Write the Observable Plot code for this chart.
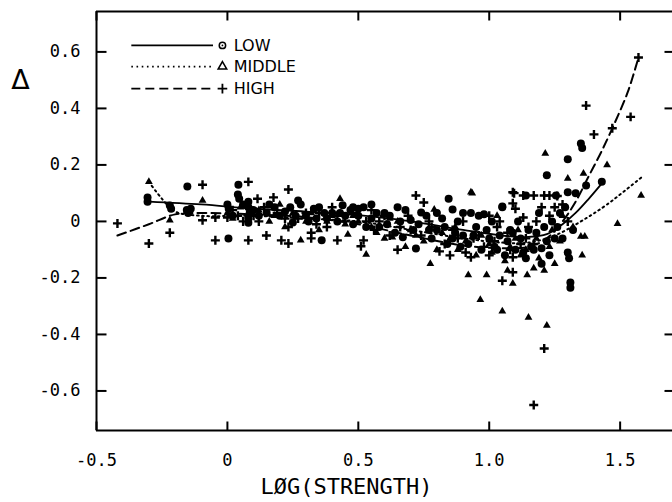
<!DOCTYPE html>
<html><head><meta charset="utf-8">
<script src="https://cdn.jsdelivr.net/npm/d3@7"></script>
<script src="https://cdn.jsdelivr.net/npm/@observablehq/plot@0.6"></script>
<style>
body{margin:0;background:#fff}
g[aria-label="legend-text"] text{letter-spacing:1.2px}
</style>
</head><body><div id="chart"></div>
<script>
// Axis ticks
const xTicks = [-0.5, 0, 0.5, 1.0, 1.5];
const xTickLabels = ["-0.5", "0", "0.5", "1.0", "1.5"];
const yTicks = [-0.6, -0.4, -0.2, 0, 0.2, 0.4, 0.6];
const yTickLabels = ["-0.6", "-0.4", "-0.2", "0", "0.2", "0.4", "0.6"];

// LOW (circles)
const lowX = [-0.305,-0.305,-0.22,-0.215,-0.153,-0.155,-0.15,-0.14,0.042,0.04,0.045,0.004,0.0,0.005,0.08,0.08,0.085,0.08,0.08,0.15,0.2,0.25,0.27,0.28,0.36,0.37,0.44,0.42,0.47,0.5,0.52,0.55,0.6,0.62,0.67,0.7,0.72,0.74,0.76,0.8,0.845,0.86,0.88,0.9,0.93,0.95,0.98,1.0,1.02,1.05,1.05,1.08,1.1,1.13,1.14,1.15,1.2,1.2,1.22,1.23,1.255,1.26,1.30,1.30,1.30,1.305,1.31,1.31,1.35,1.355,1.37,1.43,1.28,1.24,1.19,
  0.1,0.12,0.18,0.22,0.3,0.33,0.38,0.45,0.48,0.58,0.64,0.68,0.78,0.82,0.84,0.87,0.92,0.97,1.04,1.06,1.12,1.16,1.18,1.22,
  0.02,0.06,0.09,0.16,0.24,0.26,0.31,0.34,0.4,0.43,0.5,0.53,0.57,0.61,0.66,0.71,0.73,0.77,0.8,0.83,0.86,0.89,0.94,0.96,0.99,1.01,1.03,1.07,1.09,1.11,1.14,1.17,1.21,1.25,1.27,1.29,1.33,1.32,0.55,0.48,0.35,0.65,0.9];
const lowY = [0.085,0.07,0.056,0.045,0.124,0.04,0.03,0.045,0.13,0.095,0.08,-0.06,0.06,0.045,0.07,0.05,0.03,0.01,-0.005,0.03,0.02,-0.004,0.074,0.06,-0.067,0.03,0.057,0.0,0.04,0.045,0.05,0.01,0.03,0.02,-0.056,0.005,-0.096,0.032,0.02,-0.03,0.08,0.042,0.0,-0.05,0.03,-0.02,0.025,-0.06,-0.09,0.053,0.05,-0.03,-0.1,-0.11,0.092,-0.03,-0.095,-0.15,0.163,-0.12,0.092,-0.02,0.22,0.103,-0.11,-0.13,-0.216,-0.235,0.276,0.26,0.127,0.14,-0.06,0.0,0.03,
  0.04,0.02,0.05,0.035,0.02,0.045,0.01,0.02,-0.01,-0.02,-0.04,0.04,-0.06,0.01,-0.08,-0.04,-0.08,-0.1,-0.05,-0.12,-0.06,-0.09,-0.04,-0.07,
  0.02,0.06,0.04,0.06,0.05,0.02,0.0,0.01,0.03,0.03,0.02,-0.02,0.03,-0.01,0.0,-0.03,-0.01,-0.03,0.03,-0.02,-0.06,-0.09,-0.05,0.02,-0.03,0.0,-0.1,-0.07,-0.04,0.0,-0.13,-0.1,-0.02,-0.06,0.03,0.05,0.1,-0.03,0.06,0.05,0.05,0.05,0.03];

// MIDDLE (triangles)
const midX = [-0.30,-0.22,-0.095,0.0,0.02,0.12,0.2,0.28,0.3,0.43,0.46,0.53,0.4,0.55,0.63,0.65,0.7,0.775,0.79,0.85,0.92,0.93,0.935,0.966,0.99,1.0,1.05,1.07,1.09,1.1,1.145,1.15,1.17,1.21,1.214,1.22,1.25,1.30,1.35,1.365,1.355,1.36,1.45,1.49,1.58,1.03,0.88,1.12,1.18,
  0.05,0.16,0.25,0.35,0.5,0.6,0.68,0.75,0.82,0.95,1.06,1.14,1.24,1.28,
  0.08,0.18,0.22,0.32,0.38,0.45,0.48,0.57,0.62,0.72,0.8,0.87,0.91,0.97,1.01,1.08,1.11,1.19,1.23,1.27,1.32];
const midY = [0.14,0.004,0.074,0.03,0.01,0.04,0.06,-0.067,0.0,0.08,-0.046,-0.117,0.02,-0.02,-0.056,0.0,-0.03,-0.15,0.042,-0.06,-0.19,0.103,0.1,-0.277,-0.19,-0.08,-0.318,-0.174,-0.22,-0.06,-0.19,-0.34,-0.166,-0.174,0.24,-0.368,-0.15,0.152,-0.053,-0.053,-0.12,0.17,0.2,-0.008,0.092,0.02,-0.1,-0.12,-0.06,
  0.05,0.0,0.03,-0.03,0.0,-0.06,-0.09,-0.07,-0.04,-0.12,-0.14,-0.1,-0.03,0.02,
  0.02,0.02,-0.02,0.03,0.0,-0.01,0.02,-0.04,0.01,-0.05,-0.1,-0.02,-0.07,-0.05,-0.11,-0.09,-0.03,-0.13,-0.09,-0.07,-0.02];

// HIGH (plus)
const highX = [-0.42,-0.30,-0.22,-0.095,-0.095,-0.046,-0.046,0.0,0.08,0.08,0.115,0.149,0.176,0.206,0.233,0.233,0.233,0.32,0.32,0.42,0.51,0.52,0.35,0.4,0.55,0.6,0.65,0.72,0.75,0.81,0.85,0.93,0.9,0.96,1.0,1.03,1.05,1.09,1.09,1.09,1.095,1.09,1.1,1.13,1.13,1.17,1.17,1.17,1.21,1.21,1.23,1.37,1.40,1.47,1.54,1.57,1.25,1.3,0.12,0.7,
  0.02,0.06,0.14,0.27,0.38,0.45,0.58,0.62,0.78,0.83,0.88,0.98,1.02,1.07,1.14,1.2,1.26,
  0.04,0.1,0.19,0.22,0.3,0.34,0.42,0.48,0.53,0.56,0.66,0.69,0.74,0.77,0.86,0.91,0.94,1.0,1.04,1.08,1.12,1.15,1.18,1.23,1.28];
const highY = [-0.007,-0.078,-0.04,0.13,0.004,0.014,-0.067,0.014,0.14,-0.067,0.08,-0.05,0.085,-0.067,0.113,-0.078,-0.02,-0.04,-0.06,-0.067,-0.088,-0.067,0.03,0.05,0.04,0.02,-0.1,0.092,0.067,-0.106,-0.12,-0.127,0.0,-0.05,0.02,-0.02,-0.21,-0.18,-0.127,0.103,0.1,0.064,0.045,0.014,0.092,0.092,-0.08,-0.65,-0.45,0.092,0.092,0.41,0.308,0.33,0.37,0.58,0.05,0.0,0.0,-0.03,
  0.04,0.0,0.05,0.01,-0.02,0.0,0.0,-0.05,-0.02,-0.08,-0.06,-0.09,-0.07,-0.04,-0.06,0.05,0.09,
  0.02,0.02,0.03,0.01,0.03,-0.01,0.02,0.03,0.0,-0.03,-0.02,0.02,-0.05,0.0,-0.03,-0.11,-0.06,-0.12,0.0,-0.1,-0.08,-0.02,0.0,0.02,0.06];

// Smoothed curves
const lowCurveX = [-0.3,-0.1,0.1,0.3,0.5,0.7,0.9,1.05,1.15,1.22,1.28,1.33,1.38,1.435];
const lowCurveY = [0.07,0.06,0.045,0.035,0.022,0.0,-0.03,-0.05,-0.055,-0.045,-0.01,0.03,0.08,0.14];
const midCurveX = [-0.3,-0.25,-0.2,-0.1,0.1,0.3,0.5,0.7,0.9,1.05,1.15,1.25,1.35,1.45,1.58];
const midCurveY = [0.14,0.08,0.035,0.02,0.02,0.01,0.0,-0.03,-0.06,-0.075,-0.075,-0.05,0.0,0.06,0.155];
const highCurveX = [-0.42,-0.3,-0.2,-0.1,0.1,0.3,0.5,0.7,0.9,1.05,1.15,1.22,1.28,1.33,1.38,1.43,1.48,1.53,1.57];
const highCurveY = [-0.05,-0.01,0.025,0.03,0.025,0.015,-0.01,-0.05,-0.085,-0.095,-0.09,-0.06,0.0,0.07,0.16,0.25,0.35,0.46,0.58];

const legendLabels = ["LOW", "MIDDLE", "HIGH"];

const pts = (xs, ys) => xs.map((x, i) => ({x, y: ys[i]}));
const low = pts(lowX, lowY), mid = pts(midX, midY), high = pts(highX, highY);
const lowC = pts(lowCurveX, lowCurveY), midC = pts(midCurveX, midCurveY), highC = pts(highCurveX, highCurveY);

const W = 672, H = 502, mL = 96, mR = 0, mT = 11, mB = 72;
const xDom = [-0.5, 1.7], yDom = [-0.74, 0.743];
const pxX = (W - mL - mR) / (xDom[1] - xDom[0]);   // pixels per x unit
const pxY = (H - mT - mB) / (yDom[1] - yDom[0]);   // pixels per y unit

// inward tick segments, derived from the tick arrays
const tickSegs = [
  ...xTicks.map(x => ({x1: x, x2: x, y1: yDom[0], y2: yDom[0] + 9 / pxY})),
  ...xTicks.map(x => ({x1: x, x2: x, y1: yDom[1], y2: yDom[1] - 9 / pxY})),
  ...yTicks.map(y => ({x1: xDom[0], x2: xDom[0] + 10 / pxX, y1: y, y2: y})),
  ...yTicks.map(y => ({x1: xDom[1], x2: xDom[1] - 8 / pxX, y1: y, y2: y}))
];

// legend placement in data units
const legY = [0.623, 0.548, 0.470];
const leg = legendLabels.map((t, i) => ({t, y: legY[i], x1: -0.367, x2: -0.055, xs: -0.019, xt: 0.024}));

const fmt = (ticks, labels) => d => labels[ticks.findIndex(t => Math.abs(t - d) < 1e-9)];

const chart = Plot.plot({
  width: W, height: H,
  marginLeft: mL, marginRight: mR, marginTop: mT, marginBottom: mB,
  x: {domain: xDom}, y: {domain: yDom},
  style: {fontFamily: "'DejaVu Sans Mono', monospace", fontSize: "17px", color: "black", background: "white", overflow: "visible"},
  marks: [
    // frame (left, top, bottom)
    Plot.ruleX([xDom[0]], {strokeWidth: 2}),
    Plot.ruleY([yDom[0], yDom[1]], {strokeWidth: 2}),
    // inward ticks
    Plot.link(tickSegs, {x1: "x1", x2: "x2", y1: "y1", y2: "y2", stroke: "black", strokeWidth: 2}),
    // tick labels
    Plot.axisX({anchor: "bottom", ticks: xTicks, tickSize: 0, tickPadding: 23, tickFormat: fmt(xTicks, xTickLabels), label: null}),
    Plot.axisY({anchor: "left", ticks: yTicks, tickSize: 0, tickPadding: 16, tickFormat: fmt(yTicks, yTickLabels), label: null}),
    // axis titles
    Plot.text(["Δ"], {frameAnchor: "top-left", dx: -76, dy: 69, fontSize: 27, fontFamily: "'DejaVu Sans'", textAnchor: "middle", lineAnchor: "middle"}),
    Plot.text(["LØG(STRENGTH)"], {frameAnchor: "bottom", dx: -38, dy: 56, fontSize: 22, textAnchor: "middle", lineAnchor: "middle"}),
    // curves
    Plot.line(lowC, {x: "x", y: "y", curve: "catmull-rom", stroke: "black", strokeWidth: 1.8}),
    Plot.line(midC, {x: "x", y: "y", curve: "catmull-rom", stroke: "black", strokeWidth: 2, strokeDasharray: "1.6,3.6"}),
    Plot.line(highC, {x: "x", y: "y", curve: "catmull-rom", stroke: "black", strokeWidth: 2, strokeDasharray: "9,5"}),
    // points
    Plot.dot(low, {x: "x", y: "y", r: 4, fill: "black", symbol: "circle"}),
    Plot.dot(mid, {x: "x", y: "y", r: 2.9, fill: "black", symbol: "triangle"}),
    Plot.dot(high, {x: "x", y: "y", r: 3, stroke: "black", strokeWidth: 2.4, symbol: "plus"}),
    // legend
    Plot.link([leg[0]], {x1: "x1", x2: "x2", y1: "y", y2: "y", stroke: "black", strokeWidth: 1.6}),
    Plot.link([leg[1]], {x1: "x1", x2: "x2", y1: "y", y2: "y", stroke: "black", strokeWidth: 1.6, strokeDasharray: "1.6,3.6"}),
    Plot.link([leg[2]], {x1: "x1", x2: "x2", y1: "y", y2: "y", stroke: "black", strokeWidth: 1.6, strokeDasharray: "9,5"}),
    Plot.dot([leg[0]], {x: "xs", y: "y", r: 3.2, stroke: "black", strokeWidth: 1.5, symbol: "circle"}),
    Plot.dot([leg[0]], {x: "xs", y: "y", r: 0.9, fill: "black"}),
    Plot.dot([leg[1]], {x: "xs", y: "y", r: 3.2, stroke: "black", strokeWidth: 1.5, symbol: "triangle"}),
    Plot.dot([leg[2]], {x: "xs", y: "y", r: 3.2, stroke: "black", strokeWidth: 1.8, symbol: "plus"}),
    Plot.text(leg, {x: "xt", y: "y", text: "t", textAnchor: "start", fontSize: 16, fontFamily: "'DejaVu Sans'", ariaLabel: "legend-text"})
  ]
});
document.getElementById("chart").appendChild(chart);
</script>
</body></html>
